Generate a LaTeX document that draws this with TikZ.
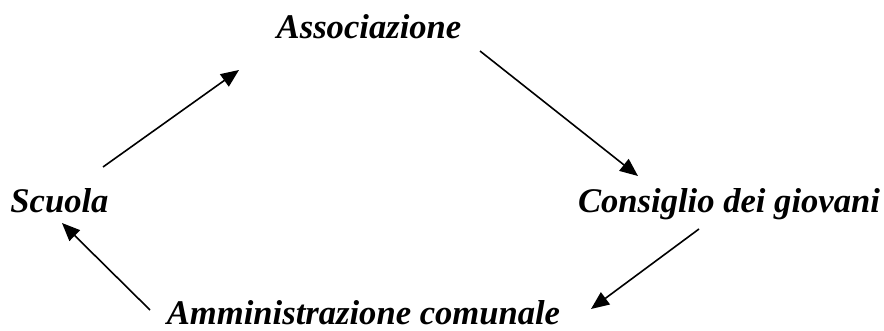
\documentclass[tikz,border=0pt]{standalone}
\usepackage{fontspec}
\setmainfont{Liberation Serif}
\usetikzlibrary{arrows.meta}
\begin{document}
\begin{tikzpicture}[x=1pt, y=1pt,
		place/.style={anchor=base, inner sep=0pt, font=\fontsize{34.6}{40}\selectfont\bfseries\itshape},
		arr/.style={-{Triangle[length=18pt,width=15pt]}, line width=1.6pt}
		]
	\useasboundingbox (0,0) rectangle (884,-331);
	\node [place] (assoc) at (369,-39) {Associazione};
	\node [place] (scuola) at (59.5,-213) {Scuola};
	\node [place] (consiglio) at (729,-213) {Consiglio dei giovani};
	\node [place] (amm) at (363.5,-324) {Amministrazione comunale};
	% arrow ends
	\coordinate (scuola-out) at (103,-167);
	\coordinate (assoc-in) at (239,-70);
	\coordinate (assoc-out) at (480,-51);
	\coordinate (consiglio-in) at (638,-176);
	\coordinate (consiglio-out) at (699,-229);
	\coordinate (amm-in) at (591,-309);
	\coordinate (amm-out) at (150,-310);
	\coordinate (scuola-in) at (62,-223);
	\draw [arr] (scuola-out) -- (assoc-in);
	\draw [arr] (assoc-out) -- (consiglio-in);
	\draw [arr] (consiglio-out) -- (amm-in);
	\draw [arr] (amm-out) -- (scuola-in);
\end{tikzpicture}
\end{document}
